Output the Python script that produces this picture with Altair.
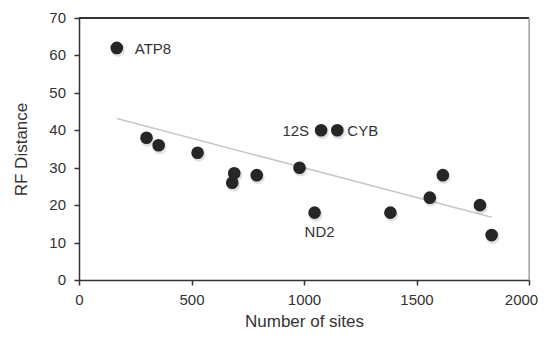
import altair as alt
import pandas as pd

sites = [168, 300, 354, 527, 681, 690, 790, 980, 1047, 1076, 1148, 1384, 1559, 1617, 1782, 1834]
rf = [62, 38, 36, 34, 26, 28.5, 28, 30, 18, 40, 40, 18, 22, 28, 20, 12]
genes = ["ATP8", "", "", "", "", "", "", "", "ND2", "12S", "CYB", "", "", "", "", ""]

x_ticks = [0, 500, 1000, 1500, 2000]
y_ticks = [0, 10, 20, 30, 40, 50, 60, 70]

df = pd.DataFrame({"sites": sites, "rf": rf, "gene": genes})
ytick_df = pd.DataFrame({"rf": y_ticks})

FONT = "Liberation Sans"
TXT = "#333333"

XS = alt.Scale(domain=[0, 2000], nice=False)
YS = alt.Scale(domain=[0, 70], nice=False)

X = alt.X("sites:Q", scale=XS,
          axis=alt.Axis(values=x_ticks, title="Number of sites", format="d", labelOverlap=False,
                        labelFlush=False,
                        labelOffset={"condition": {"test": "datum.value == 2000", "value": -8}, "value": 0}))
Y = alt.Y("rf:Q", scale=YS,
          axis=alt.Axis(values=y_ticks, title="RF Distance", labels=False, labelOverlap=False))

base = alt.Chart(df)

trend = base.mark_line(color="#c8c8c8", strokeWidth=1.5).transform_regression(
    "sites", "rf"
).encode(x=X, y=Y)

ylabels = alt.Chart(ytick_df).mark_text(
    font=FONT, fontSize=15, color=TXT, align="right", baseline="middle", dx=-13
).encode(y=Y, x=alt.value(0), text=alt.Text("rf:Q", format="d"))

# frame: thin bands along the top (dark) and right (grey) edges of the plot
top_band = base.transform_aggregate(n="count()").mark_rect(color="#333333").encode(
    x=alt.value(0), x2=alt.value(450), y=alt.value(-1), y2=alt.value(1)
)
right_band = base.transform_aggregate(n="count()").mark_rect(color="#8a8a8a").encode(
    x=alt.value(449.5), x2=alt.value(450.7), y=alt.value(0), y2=alt.value(262)
)

shadow = base.mark_circle(size=190, color="#000000", opacity=0.12, xOffset=1, yOffset=2).encode(x=X, y=Y)
points = base.mark_circle(size=160, color="#262626", opacity=1).encode(x=X, y=Y)

def lab(names, align, dx, dy):
    return base.transform_filter(
        alt.FieldOneOfPredicate(field="gene", oneOf=names)
    ).mark_text(font=FONT, fontSize=15, color=TXT, align=align, baseline="middle", dx=dx, dy=dy).encode(
        x=X, y=Y, text="gene:N"
    )

labels = alt.layer(
    lab(["ATP8"], "left", 18, 1),
    lab(["CYB"], "left", 10, 1),
    lab(["12S"], "right", -12, 1),
    lab(["ND2"], "center", 5, 19),
)

chart = alt.layer(trend, ylabels, shadow, points, labels, top_band, right_band).properties(
    width=450, height=262,
    autosize=alt.AutoSizeParams(type="none"),
    padding={"left": 71, "top": 10, "right": 10, "bottom": 51},
).configure_view(
    stroke=None
).configure_axis(
    grid=False,
    labelFont=FONT, labelFontSize=15, labelColor=TXT,
    titleFont=FONT, titleFontSize=17, titleFontWeight="normal", titleColor=TXT,
    domainColor="#333333", domainWidth=1.5, tickColor="#333333", tickWidth=1.5, tickSize=5,
).configure_axisX(
    labelPadding=7, titleY=50, titleBaseline="bottom",
).configure_axisY(
    titleX=-58, titleBaseline="middle",
)

chart.save("out.html", embed_options={"renderer": "svg", "actions": False})
